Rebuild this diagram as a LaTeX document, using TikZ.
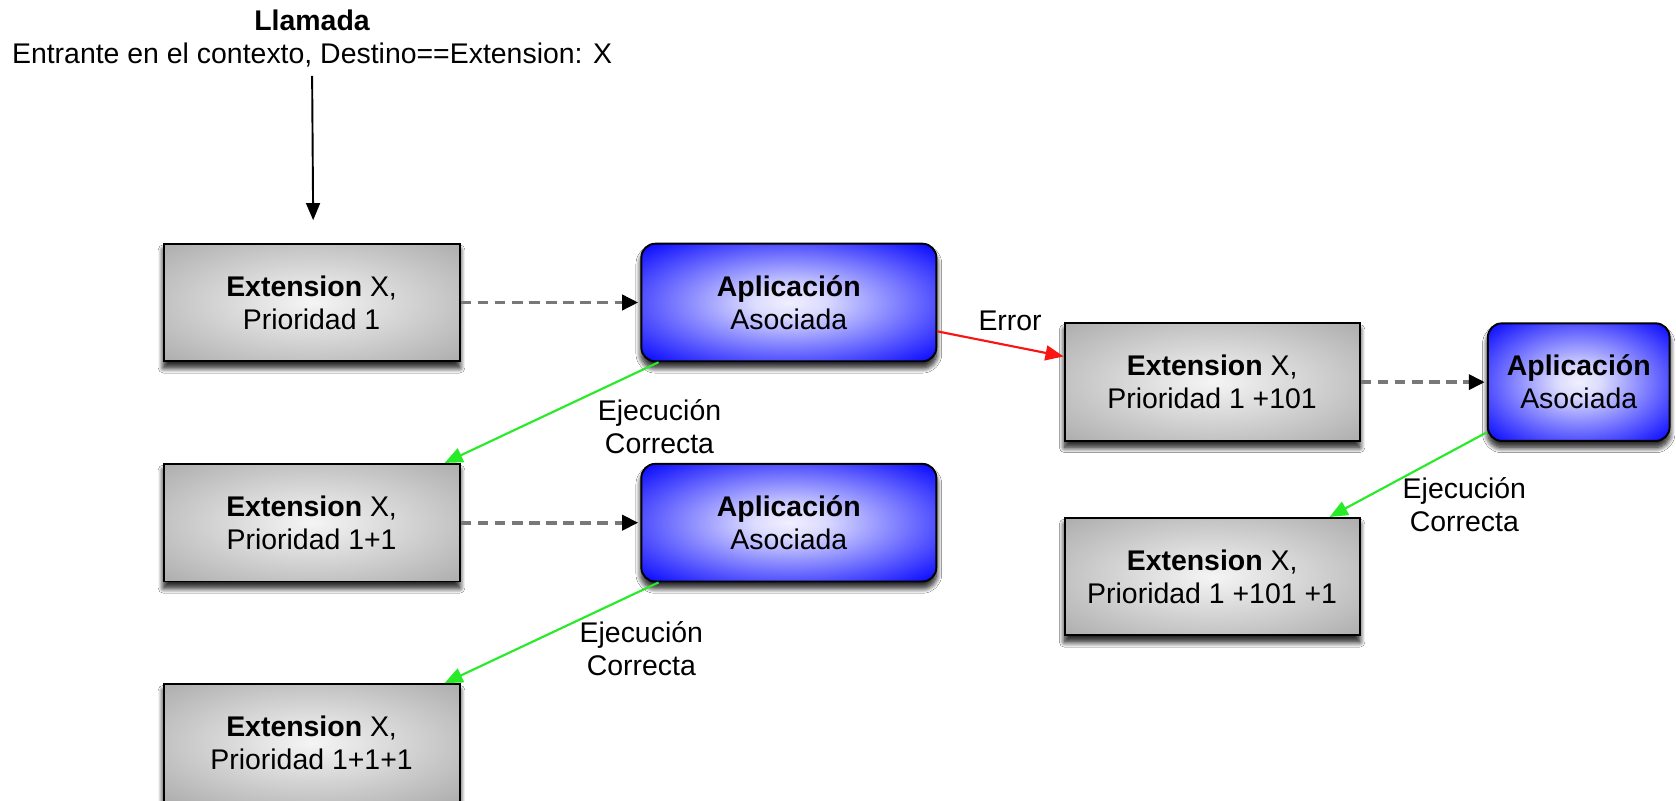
\documentclass[tikz,border=0pt]{standalone}
\usepackage{fontspec}
\setmainfont{Liberation Sans}
\usetikzlibrary{arrows.meta,shadows.blur}
\pgfdeclareradialshading{grayglow}{\pgfpoint{0bp}{0bp}}{color(0bp)=(black!4); color(48bp)=(black!42); color(80bp)=(black!42)}
\pgfdeclareradialshading{blueglow}{\pgfpoint{0bp}{0bp}}{color(0bp)=(blue!6!white); color(6bp)=(blue!14!white); color(36bp)=(blue); color(80bp)=(blue)}
\definecolor{okgreen}{RGB}{40,235,40}
\definecolor{errred}{RGB}{250,20,20}
\definecolor{dashgray}{RGB}{120,120,120}
\begin{document}
\begin{tikzpicture}[x=1pt,y=-1pt,
  every node/.style={font=\fontsize{26.6}{31}\selectfont, text=black},
  boxbase/.style={draw=black, line width=1.8pt, minimum height=110pt, align=center, inner sep=0pt,
    blur shadow={shadow xshift=0pt, shadow yshift=-9pt, shadow blur radius=8pt, shadow blur steps=12, shadow opacity=100},
    blur shadow={shadow xshift=0pt, shadow yshift=-6pt, shadow blur radius=5pt, shadow blur steps=8, shadow opacity=60}},
  graybox/.style={boxbase, minimum width=277pt, shading=grayglow},
  bluebox/.style={boxbase, rounded corners=13pt, shading=blueglow},
  lbl/.style={align=center, inner sep=0pt},
  callarrow/.style={draw=black, line width=1.8pt, -{Triangle[length=16pt,width=13pt]}},
  dasharrow/.style={draw=dashgray, line width=3.5pt, dash pattern=on 10pt off 6pt, shorten >=2pt, -{Triangle[length=15pt,width=14pt,color=black]}},
  okarrow/.style={draw=okgreen, line width=2pt, -{Triangle[length=17pt,width=14pt]}},
  errarrow/.style={draw=errred, line width=2pt, -{Triangle[length=17pt,width=14pt]}}
]
\useasboundingbox (0,0) rectangle (1568,749);
\fill[white] (0,0) rectangle (1568,749);

% top label
\node[lbl] (call) at (292,36) {\textbf{Llamada}\\Entrante en el contexto, Destino==Extension: X};
\coordinate (callend) at (293,206);

% boxes
\node[graybox] (g1) at (291.5,283) {\textbf{Extension} X,\\Prioridad 1};
\node[bluebox, minimum width=276pt] (b1) at (738,283) {\textbf{Aplicación}\\Asociada};
\node[graybox] (g2) at (291.5,489) {\textbf{Extension} X,\\Prioridad 1+1};
\node[bluebox, minimum width=276pt] (b2) at (738,489) {\textbf{Aplicación}\\Asociada};
\node[graybox] (g3) at (291.5,695) {\textbf{Extension} X,\\Prioridad 1+1+1};
\node[graybox, minimum width=276pt] (g4) at (1134,357.5) {\textbf{Extension} X,\\Prioridad 1 +101};
\node[bluebox, minimum width=170pt] (b3) at (1477,357.5) {\textbf{Aplicación}\\Asociada};
\node[graybox, minimum width=276pt] (g5) at (1134,539.5) {\textbf{Extension} X,\\Prioridad 1 +101 +1};

% labels
\node[lbl] (l1) at (617,399) {Ejecución\\Correcta};
\node[lbl] (l2) at (600,607) {Ejecución\\Correcta};
\node[lbl] (l3) at (1370,472) {Ejecución\\Correcta};
\node[lbl] (lerr) at (945,300) {Error};

% connectors
\draw[callarrow] ([yshift=-8pt]call.south) -- (callend);
\draw[dasharrow] (g1.east) -- (b1.west);
\draw[dasharrow] (g2.east) -- (b2.west);
\draw[dasharrow] (g4.east) -- (b3.west);
\draw[okarrow] ([xshift=17pt]b1.south west) -- ([xshift=-15pt]g2.north east);
\draw[okarrow] ([xshift=17pt]b2.south west) -- ([xshift=-15pt]g3.north east);
\draw[okarrow] ([yshift=9pt]b3.south west) -- ([xshift=-29pt]g5.north east);
\draw[errarrow] ([yshift=-27pt]b1.east) -- ([yshift=24pt]g4.west);
\end{tikzpicture}
\end{document}
